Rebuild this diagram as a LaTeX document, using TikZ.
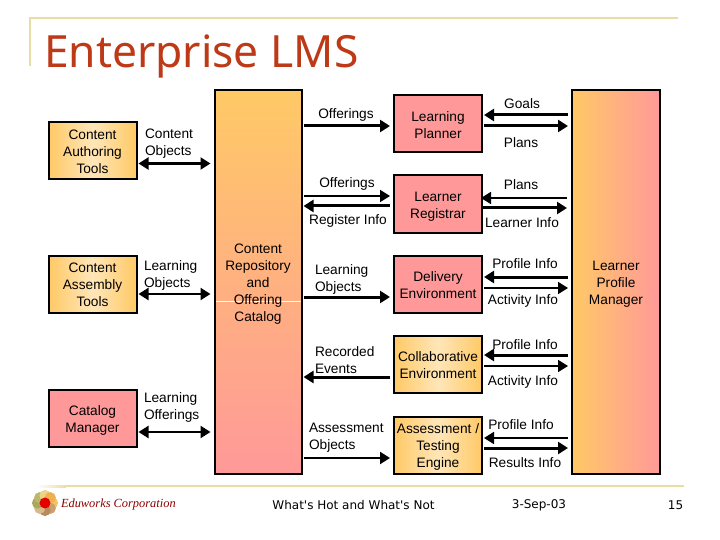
\documentclass[tikz,border=0pt]{standalone}
\usepackage{fontspec}
\setmainfont{Liberation Sans}
\newfontfamily\titlefont{Noto Sans}
\newfontfamily\footfont{DejaVu Sans}
\newfontfamily\logofont{Liberation Serif}
\usetikzlibrary{arrows.meta}
\definecolor{rulecol}{HTML}{E9DDA6}
\definecolor{titlecol}{HTML}{BE3A17}
\definecolor{orangebox}{HTML}{FFC966}
\definecolor{palebox}{HTML}{FFE6B8}
\definecolor{pinkbox}{HTML}{FF9999}
\tikzset{
  x=1pt,y=-1pt,
  every node/.style={font=\fontsize{13.7}{17}\selectfont,inner sep=0pt,outer sep=0pt},
  basebox/.style={draw=black,line width=2pt,minimum width=88pt,minimum height=57pt},
  palegrad/.style={basebox,left color=orangebox,right color=orangebox,middle color=palebox},
  pinkfill/.style={basebox,fill=pinkbox},
  tallbox/.style={basebox,minimum height=383pt},
  lab/.style={align=center,yshift=-0.2pt},
  leftlab/.style={align=left,anchor=west,yshift=-0.2pt},
  footer/.style={font=\footfont\fontsize{12}{14}\selectfont},
  tip/.style={-{Triangle[length=10pt,width=12pt]}},
  rtip/.style={{Triangle[length=10pt,width=12pt]}-},
  bothtip/.style={{Triangle[length=10pt,width=12pt]}-{Triangle[length=10pt,width=12pt]}},
  thinl/.style={line width=1.8pt},
  midl/.style={line width=2.2pt},
  thickl/.style={line width=3pt},
}
% #1 style, #2 left node, #3 right node, #4 node giving the height, #5 offset down
\newcommand{\hlink}[5]{\draw[#1] ([xshift=2pt,yshift=-#5pt]#2.east |- #4.center) -- ([xshift=-4pt,yshift=-#5pt]#3.west |- #4.center);}
% same, with the two ends slightly further left
\newcommand{\hlinkl}[5]{\draw[#1] ([xshift=-1pt,yshift=-#5pt]#2.east |- #4.center) -- ([xshift=-5pt,yshift=-#5pt]#3.west |- #4.center);}
% box text: centred lines, lowered a little
\newcommand{\tl}[1]{\raisebox{-2.5pt}[\height][\depth]{\begin{tabular}{@{}c@{}}#1\end{tabular}}}
\begin{document}
\begin{tikzpicture}
\useasboundingbox (0,0) rectangle (720,540);
\fill[white] (0,0) rectangle (720,540);
% title rules
\draw[rulecol,line width=2pt] (30,66) -- (30,18) -- (678,18);
\node[anchor=base west,text=titlecol,font=\titlefont\fontsize{44.4}{50}\selectfont] (title) at (44,68) {Enterprise LMS};
% footer rule
\shade[left color=white,right color=rulecol] (36,485) rectangle (66,487);
\fill[rulecol] (66,485) rectangle (684,487);
% boxes
\node[palegrad] (author) at (92.5,151) {\tl{Content\\Authoring\\Tools}};
\node[palegrad] (assembly) at (92.5,284) {\tl{Content\\Assembly\\Tools}};
\node[pinkfill] (catalog) at (92.5,418) {\tl{Catalog\\Manager}};
\node[tallbox,top color=orangebox,bottom color=pinkbox,minimum width=87pt] (repo) at (258,282) {};
\draw[white,line width=0.6pt] ([xshift=1pt]repo.west |- 0,301) -- ([xshift=-1pt]repo.east |- 0,301);
\node (repotext) at (repo.center) {\tl{Content\\Repository\\and\\Offering\\Catalog}};
\node[pinkfill] (planner) at (438,124) {\tl{Learning\\Planner}};
\node[pinkfill] (registrar) at (438,204) {\tl{Learner\\Registrar}};
\node[pinkfill] (delivery) at (438,284.5) {\tl{Delivery\\Environment}};
\node[palegrad] (collab) at (438,364.5) {\tl{Collaborative\\Environment}};
\node[palegrad] (assess) at (438,445) {\tl{Assessment /\\Testing\\Engine}};
\node[tallbox,left color=orangebox,right color=pinkbox] (profile) at (616,282) {\tl{Learner\\Profile\\Manager}};
% left connectors
\hlink{midl,bothtip}{author}{repo}{author}{12.5}
\hlink{midl,bothtip}{assembly}{repo}{assembly}{10}
\hlink{midl,bothtip}{catalog}{repo}{catalog}{14}
% centre connectors
\hlink{thickl,tip}{repo}{planner}{planner}{2}
\hlink{thinl,tip}{repo}{registrar}{registrar}{-8}
\hlink{thickl,rtip}{repo}{registrar}{registrar}{2}
\hlink{thickl,tip}{repo}{delivery}{delivery}{12.5}
\hlink{thickl,rtip}{repo}{collab}{collab}{12.5}
\hlink{midl,tip}{repo}{assess}{assess}{13}
% right connectors
\hlink{thickl,rtip}{planner}{profile}{planner}{-9}
\hlink{thickl,tip}{planner}{profile}{planner}{2}
\hlinkl{thinl,rtip}{registrar}{profile}{registrar}{-6}
\hlinkl{thickl,tip}{registrar}{profile}{registrar}{4}
\hlink{thickl,rtip}{delivery}{profile}{delivery}{-7.5}
\hlink{thinl,tip}{delivery}{profile}{delivery}{3.5}
\hlink{thickl,rtip}{collab}{profile}{collab}{-9.5}
\hlink{thinl,tip}{collab}{profile}{collab}{1.5}
\hlink{thinl,rtip}{assess}{profile}{assess}{-7}
\hlink{thickl,tip}{assess}{profile}{assess}{3}
% labels
\node[leftlab] (l1) at (145,143) {Content\\Objects};
\node[leftlab] (l2) at (144,275) {Learning\\Objects};
\node[leftlab] (l3) at (144,407.5) {Learning\\Offerings};
\node[lab] (l4) at (346,115) {Offerings};
\node[lab] (l5) at (347,184) {Offerings};
\node[lab] (l6) at (348,221) {Register Info};
\node[leftlab] (l7) at (315,279.5) {Learning\\Objects};
\node[leftlab] (l8) at (315,359.5) {Recorded\\Events};
\node[leftlab] (l9) at (309,437.5) {Assessment\\Objects};
\node[lab] (r1) at (522,103) {Goals};
\node[lab] (r2) at (521,142) {Plans};
\node[lab] (r3) at (521,184) {Plans};
\node[lab] (r4) at (522,222) {Learner Info};
\node[lab] (r5) at (525,263) {Profile Info};
\node[lab] (r6) at (523,301) {Activity Info};
\node[lab] (r7) at (525,344) {Profile Info};
\node[lab] (r8) at (523,382) {Activity Info};
\node[lab] (r9) at (521,424) {Profile Info};
\node[lab] (r10) at (525,462) {Results Info};
% logo flower
\foreach \a/\c in {0/F2C46A,45/C9A26B,90/B98A5E,135/D8B98A,180/A8A85E,225/BDB56A,270/E8D48A,315/F0B050}{
  \definecolor{petal}{HTML}{\c}
  \fill[petal] (45,503) ++(\a:7.5) circle (5.6);
}
\fill[red!90!black] (45,503) circle (5.5);
\node[anchor=west,text=red!55!black,font=\logofont\itshape\fontsize{12.4}{15}\selectfont] (logo) at (61,505) {Eduworks Corporation};
% footer text
\node[footer] (f1) at (353.5,505.5) {What's Hot and What's Not};
\node[footer] (f2) at (539,505.5) {3-Sep-03};
\node[footer] (f3) at (675.5,505.5) {15};
\end{tikzpicture}
\end{document}
